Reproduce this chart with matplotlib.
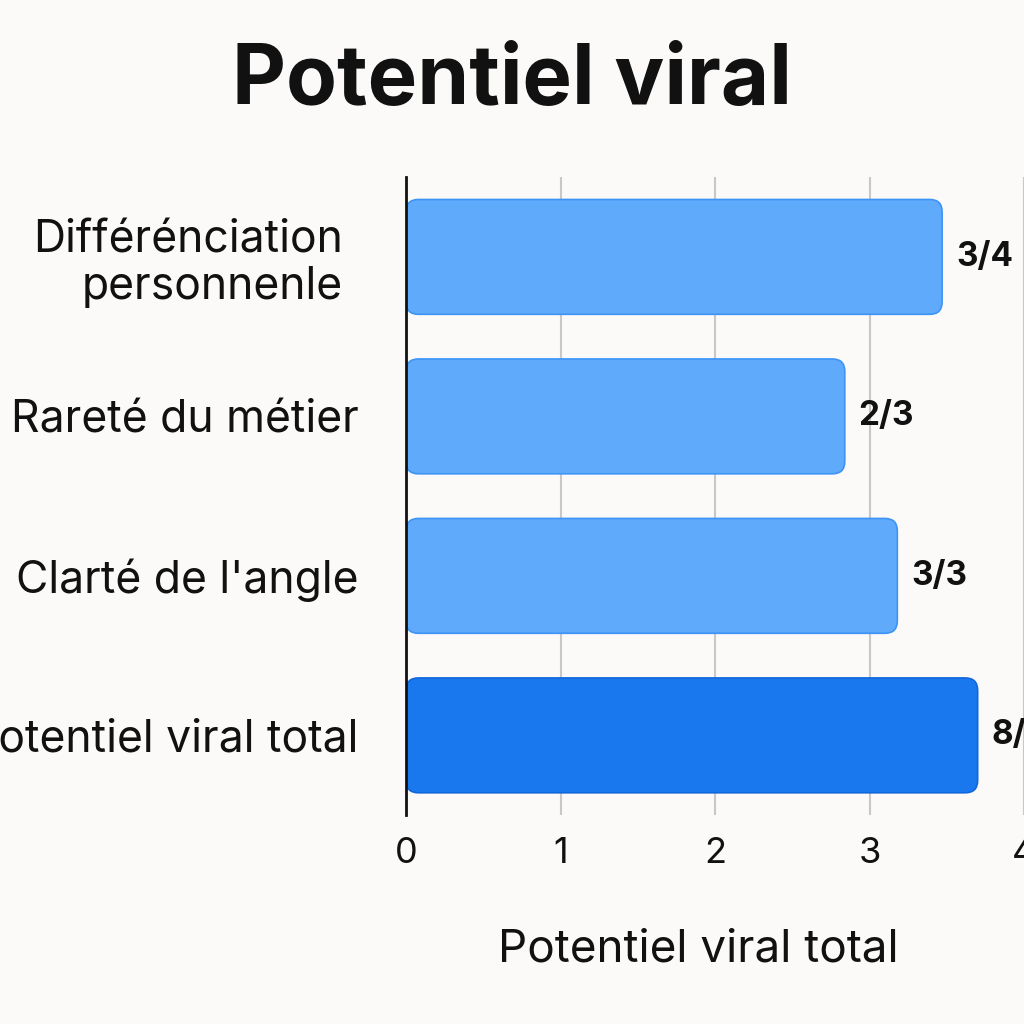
import matplotlib
matplotlib.use("Agg")
import matplotlib.pyplot as plt
from matplotlib.patches import FancyBboxPatch

categories = ["Différénciation\npersonnenle", "Rareté du métier", "Clarté de l'angle", "Potentiel viral total"]
values = [3.47, 2.84, 3.18, 3.70]
value_labels = ["3/4", "2/3", "3/3", "8/10"]
colors = ["#5FAAFB", "#5FAAFB", "#5FAAFB", "#1A78EE"]
edge_colors = ["#3D94F5", "#3D94F5", "#3D94F5", "#1266DC"]
xticks = [0, 1, 2, 3, 4]

plt.rcParams['font.family'] = ['Inter', 'DejaVu Sans']
bg = "#FBFAF8"
fig = plt.figure(figsize=(10.24, 10.24), dpi=100, facecolor=bg)
ax = fig.add_axes([0.3965, 0.204, 0.6035, 0.623], facecolor=bg)

ypos = list(range(len(categories)))
bars = ax.barh(ypos, values, height=0.72, color=colors, zorder=3)
ax.set_ylim(3.5, -0.5)
ax.set_xlim(0, 4)

# replace bars with rounded ones
for rect, fc, ec in zip(bars.patches, colors, edge_colors):
    x, y = rect.get_x(), rect.get_y()
    w, h = rect.get_width(), rect.get_height()
    rect.set_visible(False)
    p = FancyBboxPatch((x, y), w, h, boxstyle="round,pad=0,rounding_size=0.08",
                       mutation_aspect=0.97, facecolor=fc, edgecolor=ec, linewidth=1.2, zorder=3)
    ax.add_patch(p)

for yv, v, lab in zip(ypos, values, value_labels):
    ax.annotate(lab, xy=(v, yv), xytext=(10, 0), textcoords="offset points",
                ha="left", va="center", fontsize=24, fontweight="bold", color="#111111",
                annotation_clip=False)

ax.set_yticks(ypos)
ax.set_yticklabels(categories, fontsize=32, color="#111111", linespacing=1.15)
ax.set_xticks(xticks)
ax.set_xticklabels([str(t) for t in xticks], fontsize=26, color="#111111")
ax.tick_params(axis="y", length=0, pad=34)
ax.tick_params(axis="x", length=0, pad=16)
ax.yaxis.get_major_ticks()[0].set_pad(45.5)
ax.grid(axis="x", color="#C8C8C8", linewidth=1.5, zorder=0)
for s in ["top", "right", "bottom"]:
    ax.spines[s].set_visible(False)
ax.spines["left"].set_color("#111111")
ax.spines["left"].set_linewidth(2)
ax.spines["left"].set_zorder(4)

ax.set_xlabel("Potentiel viral total", fontsize=33, color="#111111")
ax.xaxis.set_label_coords(0.4725, -0.178)
fig.text(0.5, 0.92, "Potentiel viral", ha="center", va="center", fontsize=60,
         fontweight="bold", color="#111111")

fig.savefig("out.png", dpi=100, facecolor=bg)
